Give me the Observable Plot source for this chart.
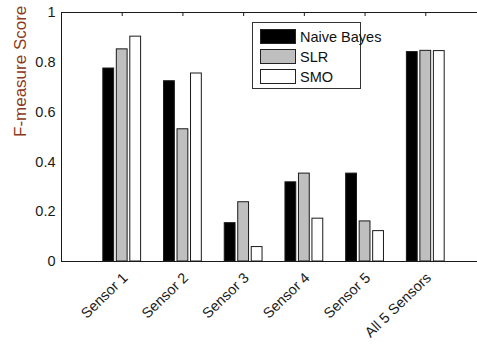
<!DOCTYPE html>
<html>
<head>
<meta charset="utf-8">
<script src="https://cdn.jsdelivr.net/npm/d3@7"></script>
<script src="https://cdn.jsdelivr.net/npm/@observablehq/plot@0.6"></script>
<style>
  html, body { margin: 0; padding: 0; background: #fff; overflow: hidden; }
  #wrap { position: relative; width: 477px; height: 344px; overflow: hidden; }
  #legend { position: absolute; left: 252px; top: 22px; width: 109px; height: 67px;
    border: 1px solid #333; background: #fff; box-sizing: border-box;
    font-family: "Liberation Sans", Arial, sans-serif; font-size: 14.5px; color: #111; }
  .row { position: absolute; left: 7px; height: 15px; display: flex; align-items: center; white-space: nowrap; }
  .sw { width: 36px; height: 15px; box-sizing: border-box; border: 1px solid #222; margin-right: 4px; flex: none; }
</style>
</head>
<body>
<div id="wrap"></div>
<script>
const categories = ["Sensor 1", "Sensor 2", "Sensor 3", "Sensor 4", "Sensor 5", "All 5 Sensors"];
const series = ["Naive Bayes", "SLR", "SMO"];
const naiveBayes = [0.775, 0.724, 0.154, 0.318, 0.353, 0.841];
const slr = [0.852, 0.531, 0.238, 0.353, 0.161, 0.846];
const smo = [0.903, 0.755, 0.058, 0.172, 0.122, 0.845];
const colors = ["#000000", "#bfbfbf", "#ffffff"];
const yTicks = [0, 0.2, 0.4, 0.6, 0.8, 1];
const yTickLabels = ["0", "0.2", "0.4", "0.6", "0.8", "1"];

const seriesValues = [naiveBayes, slr, smo];
const data = [];
categories.forEach((c, i) => {
  series.forEach((s, j) => {
    data.push({cat: c, pos: i + 1, j, series: s, value: seriesValues[j][i]});
  });
});
const groupStep = 0.2222, barW = 0.178;
const xTicks = categories.map((c, i) => i + 1);

const chart = Plot.plot({
  width: 477, height: 344,
  marginLeft: 61, marginTop: 12, marginBottom: 83, marginRight: 0,
  style: {fontFamily: "'Liberation Sans', Arial, sans-serif", fontSize: "14.5px", color: "#1a1a1a", background: "transparent"},
  x: {domain: [0, 7], range: [61, 486]},
  y: {domain: [0, 1]},
  color: {domain: series, range: colors},
  marks: [
    Plot.rectY(data, {
      x1: d => d.pos + (d.j - 1) * groupStep - barW / 2,
      x2: d => d.pos + (d.j - 1) * groupStep + barW / 2,
      y: "value", fill: "series", stroke: "#1a1a1a", strokeWidth: 1
    }),
    Plot.ruleY([0, 1], {stroke: "#1a1a1a"}),
    Plot.ruleX([0], {stroke: "#1a1a1a"}),
    Plot.ruleX(xTicks, {x: d => d, insetBottom: 245, stroke: "#1a1a1a"}),
    Plot.axisY({ticks: yTicks, tickFormat: (d, i) => yTickLabels[i], tickSize: 0, tickPadding: 6, label: null, fontSize: 14.5}),
    Plot.axisX({ticks: xTicks, tickFormat: d => categories[d - 1], tickRotate: -44, tickSize: 0, tickPadding: 14, dx: 3, label: null, fontSize: 14.5}),
    Plot.text(["F-measure Score"], {frameAnchor: "left", rotate: -90, dx: -41, fill: "#8a3a22", fontSize: 17, fontFamily: "'Liberation Sans', Arial, sans-serif"})
  ]
});
const wrap = document.getElementById("wrap");
wrap.appendChild(chart);

// legend
const legend = document.createElement("div");
legend.id = "legend";
series.forEach((s, j) => {
  const row = document.createElement("div");
  row.className = "row";
  row.style.top = (6 + j * 20) + "px";
  const sw = document.createElement("div");
  sw.className = "sw";
  sw.style.background = colors[j];
  row.appendChild(sw);
  const t = document.createElement("span");
  t.textContent = s;
  row.appendChild(t);
  legend.appendChild(row);
});
wrap.appendChild(legend);
</script>
</body>
</html>
